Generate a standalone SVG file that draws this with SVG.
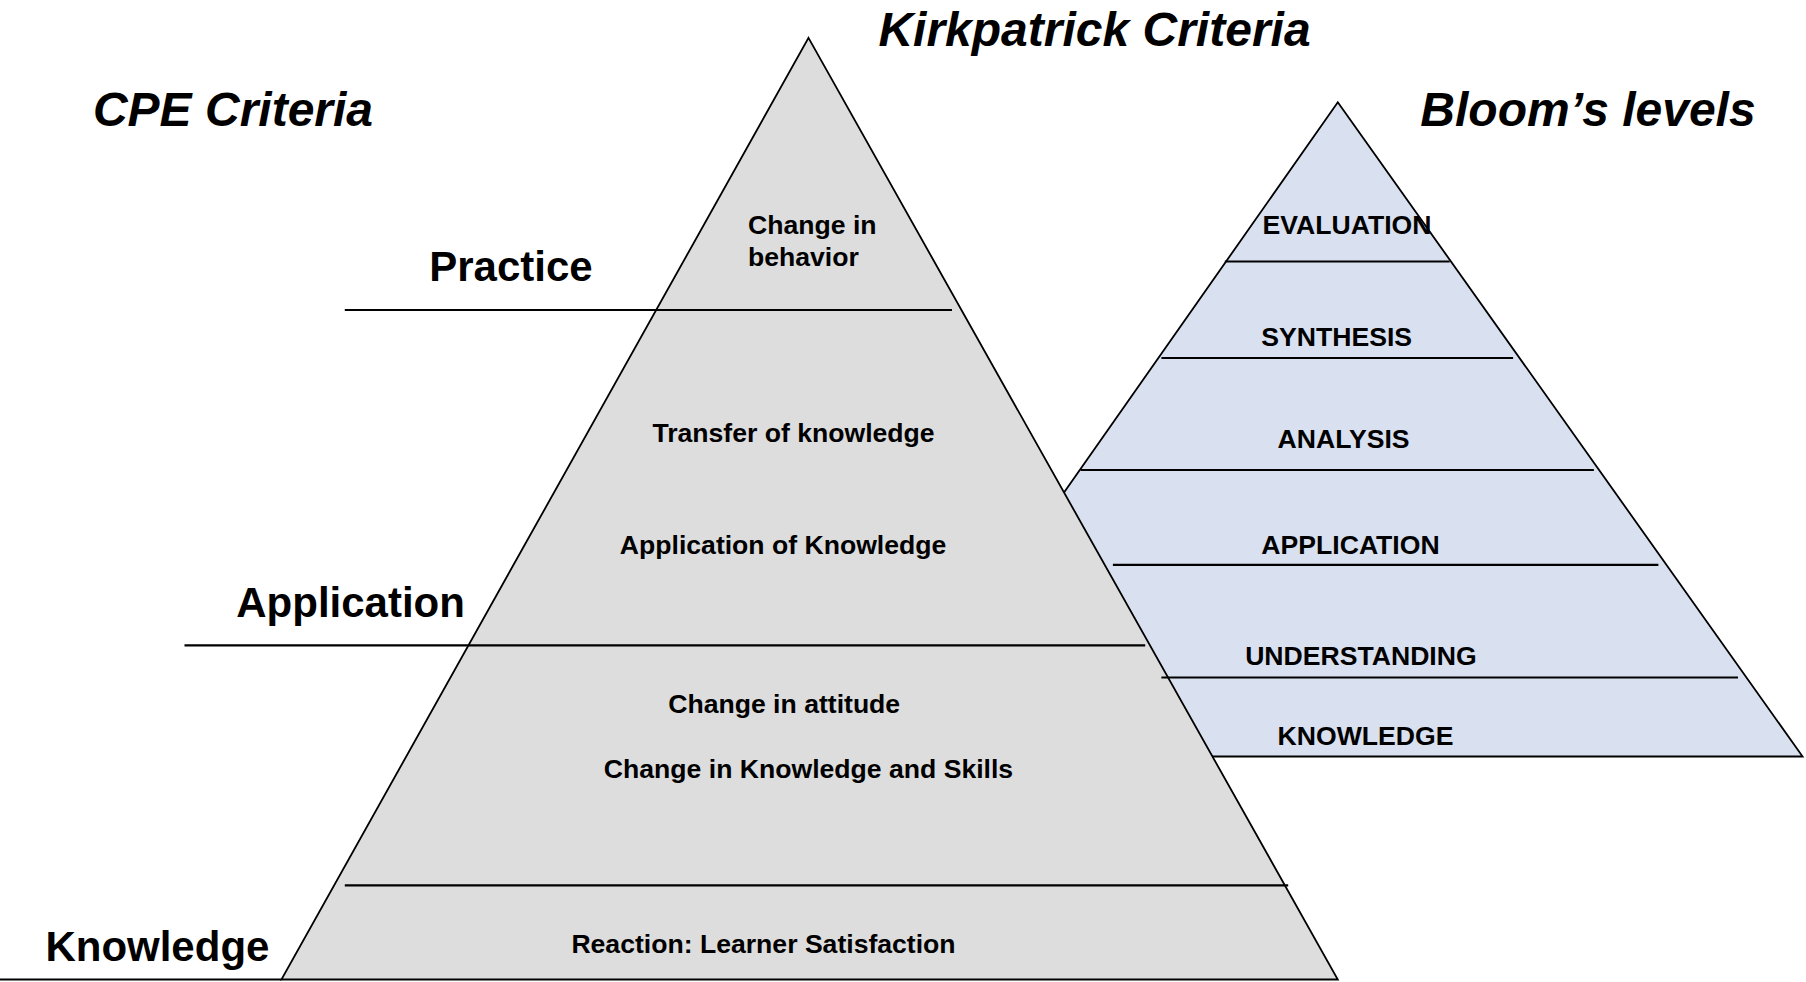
<svg xmlns="http://www.w3.org/2000/svg" width="1806" height="982" viewBox="0 0 1806 982">
<style>
.tri{stroke:#000;stroke-width:1.8;stroke-linejoin:miter}
.ln{stroke:#000;stroke-width:2.2;fill:none}
.t{font-family:"Liberation Sans",Arial,sans-serif;font-weight:bold;fill:#000}
.s{font-size:26.6px}
.c{text-anchor:middle}
.big{font-size:42px}
.ttl{font-size:48px;font-style:italic}
</style>
<rect width="1806" height="982" fill="#fff"/>
<g id="bloom">
<polygon class="tri" points="1337.8,102.2 1802.6,756.5 878.8,756.5" fill="#d9e0ef"/>
</g>
<g id="kirkpatrick">
<polygon class="tri" points="808.5,37.9 1337.8,979.5 281.4,979.5" fill="#dddddd"/>
</g>
<g id="connectors">
<line class="ln" x1="0" y1="979.5" x2="281.4" y2="979.5"/>
<line class="ln" x1="344.8" y1="310" x2="952" y2="310"/>
<line class="ln" x1="184.5" y1="645.3" x2="1145.2" y2="645.3"/>
<line class="ln" x1="344.8" y1="885.3" x2="1288.2" y2="885.3"/>
<line class="ln" x1="1224.8" y1="261.5" x2="1449.7" y2="261.5"/>
<line class="ln" x1="1161.4" y1="358" x2="1513.1" y2="358"/>
<line class="ln" x1="1080.6" y1="470" x2="1593.9" y2="470"/>
<line class="ln" x1="1112.9" y1="564.8" x2="1658.4" y2="564.8"/>
<line class="ln" x1="1161.4" y1="677.5" x2="1738" y2="677.5"/>
</g>
<g id="titles">
<text class="t ttl c" x="1094.5" y="46">Kirkpatrick Criteria</text>
<text class="t ttl c" x="233" y="126">CPE Criteria</text>
<text class="t ttl c" x="1588" y="126">Bloom’s levels</text>
</g>
<g id="cpe-labels">
<text class="t big c" x="511" y="281">Practice</text>
<text class="t big c" x="350.6" y="617">Application</text>
<text class="t big c" x="157.4" y="961">Knowledge</text>
</g>
<g id="kirk-text">
<text class="t s" x="748" y="234">Change in</text>
<text class="t s" x="748" y="266">behavior</text>
<text class="t s c" x="793.5" y="442">Transfer of knowledge</text>
<text class="t s c" x="783.1" y="553.6">Application of Knowledge</text>
<text class="t s c" x="784.2" y="713">Change in attitude</text>
<text class="t s c" x="808.5" y="777.5">Change in Knowledge and Skills</text>
<text class="t s c" x="763.5" y="953">Reaction: Learner Satisfaction</text>
</g>
<g id="bloom-text">
<text class="t s c" x="1347" y="234.4">EVALUATION</text>
<text class="t s c" x="1336.7" y="345.8">SYNTHESIS</text>
<text class="t s c" x="1343.6" y="448">ANALYSIS</text>
<text class="t s c" x="1350.5" y="553.6">APPLICATION</text>
<text class="t s c" x="1360.9" y="665">UNDERSTANDING</text>
<text class="t s c" x="1365.5" y="745.4">KNOWLEDGE</text>
</g>
</svg>
